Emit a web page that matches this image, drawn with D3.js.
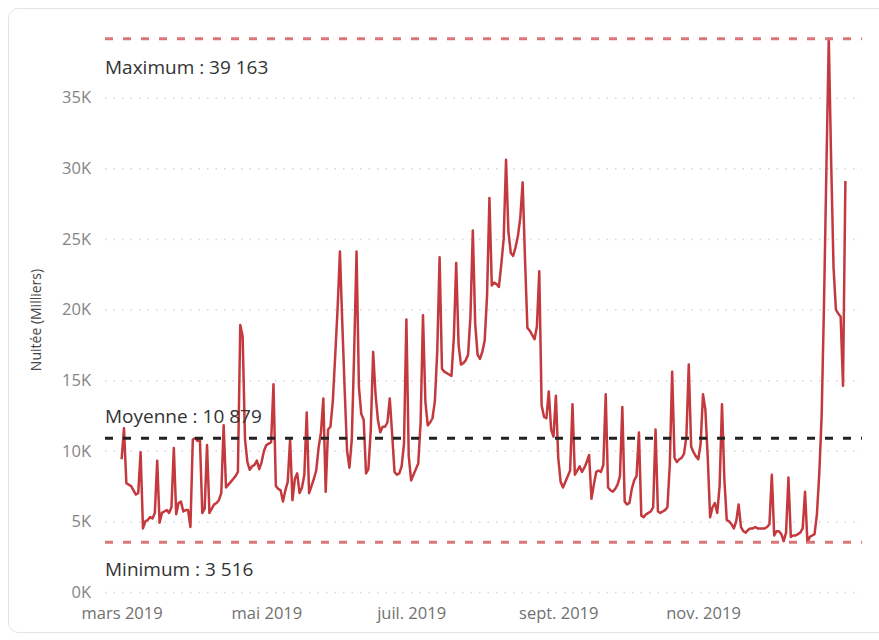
<!DOCTYPE html>
<html>
<head>
<meta charset="utf-8">
<script src="https://cdn.jsdelivr.net/npm/d3@7"></script>
<style>
  html, body { margin: 0; padding: 0; background: #fff; }
  body { width: 879px; height: 640px; overflow: hidden; font-family: "Open Sans", "Noto Sans", sans-serif; }
</style>
</head>
<body>
<div id="chart"></div>
<script>
// données journalières à partir du 1er mars 2019
const startDate = new Date(2019, 2, 1);
const nuitees = [
  9400, 11600, 7700, 7600, 7500, 7200, 6900, 7000, 9900, 4500,
  5000, 5100, 5300, 5200, 5600, 9300, 4900, 5600, 5700, 5800,
  5600, 6000, 10200, 5500, 6300, 6400, 5700, 5800, 5800, 4600,
  10800, 10900, 10700, 10800, 5600, 5900, 10400, 5600, 5900, 6200,
  6300, 6500, 7000, 11800, 7400, 7600, 7800, 8000, 8200, 8500,
  18900, 18100, 10800, 9200, 8650, 8900, 9000, 9300, 8700, 9200,
  10000, 10400, 10500, 10600, 14700, 7500, 7300, 7200, 6400, 7200,
  7800, 10800, 6500, 8000, 8400, 7000, 7400, 8300, 12700, 7000,
  7500, 8000, 8600, 10200, 11300, 13700, 7100, 11500, 11700, 13500,
  16700, 20000, 24100, 19000, 14300, 10000, 8800, 10800, 17000, 24100,
  14500, 12600, 12200, 8400, 8700, 11500, 17000, 14000, 12200, 11300,
  11700, 11700, 12000, 13700, 11200, 8500, 8300, 8400, 8900, 10500,
  19300, 9600, 7900, 8300, 8700, 9100, 12000, 19600, 13500, 11800,
  12000, 12300, 13500, 17000, 23700, 15800, 15600, 15500, 15400, 15300,
  18000, 23300, 17500, 16100, 16200, 16400, 16800, 19500, 25600, 19000,
  16800, 16500, 17000, 17800, 21000, 27900, 21700, 21900, 21800, 21600,
  23200, 25000, 30600, 25500, 24000, 23800, 24400, 25200, 26500, 29000,
  23500, 18700, 18500, 18200, 17900, 18800, 22700, 13200, 12400, 12300,
  14200, 11500, 11000, 13900, 9500, 7800, 7400, 7800, 8200, 8600,
  13300, 8300, 8600, 8900, 8500, 8800, 9200, 9700, 6600, 7600,
  8500, 8600, 8500, 9000, 14000, 7400, 7200, 7100, 7300, 7600,
  8200, 13100, 6400, 6200, 6300, 7300, 7900, 8200, 11300, 5400,
  5300, 5500, 5600, 5700, 6000, 11500, 5700, 5600, 5700, 5800,
  6000, 9000, 15600, 9500, 9200, 9400, 9500, 9800, 11000, 16100,
  10300, 9900, 9600, 9400, 10500, 14000, 12900, 9500, 5300, 6000,
  6300, 5600, 7500, 13300, 8000, 5100, 5000, 4800, 4500, 5000,
  6200, 4600, 4300, 4200, 4400, 4500, 4500, 4600, 4500, 4500,
  4500, 4500, 4600, 4800, 8300, 4000, 4300, 4300, 4100, 3600,
  4200, 8100, 3900, 4000, 4000, 4100, 4200, 4500, 7100, 3516,
  3900, 4000, 4100, 5500, 8400, 12500, 20500, 30000, 39163, 30500,
  23000, 20000, 19700, 19500, 14600, 29100
];
const moyenne = 10879;

const monthTicks = [new Date(2019, 2, 1), new Date(2019, 4, 1), new Date(2019, 6, 1), new Date(2019, 8, 1), new Date(2019, 10, 1)];
const monthLabels = ["mars 2019", "mai 2019", "juil. 2019", "sept. 2019", "nov. 2019"];
const yTicks = [0, 5000, 10000, 15000, 20000, 25000, 30000, 35000];

const data = nuitees.map((v, i) => ({ date: d3.timeDay.offset(startDate, i), value: v }));
const maxVal = d3.max(nuitees), minVal = d3.min(nuitees);

const fr = d3.formatLocale({ decimal: ",", thousands: " ", grouping: [3], currency: ["", " €"] });
const fmt = fr.format(",d");

const width = 879, height = 640;
const plotLeft = 105, plotRight = 862, plotTop = 27, plotBottom = 592;

const svg = d3.select("#chart").append("svg")
  .attr("width", width)
  .attr("height", height);

// carte
svg.append("rect")
  .attr("x", 8.5).attr("y", 8.5)
  .attr("width", 900).attr("height", 624)
  .attr("rx", 10)
  .attr("fill", "#fff")
  .attr("stroke", "#e3e3e3");

const x = d3.scaleTime()
  .domain([new Date(2019, 1, 22), new Date(2020, 0, 7)])
  .range([plotLeft, plotRight]);

const y = d3.scaleLinear()
  .domain([0, 40000])
  .range([plotBottom, plotTop]);

// grille
const grid = svg.append("g")
  .attr("transform", "translate(" + plotLeft + ",0)")
  .call(d3.axisLeft(y).tickValues(yTicks).tickSize(-(plotRight - plotLeft)).tickFormat(""));
grid.select(".domain").remove();
grid.selectAll("line")
  .attr("stroke", "#d6d6d6")
  .attr("stroke-width", 1.5)
  .attr("stroke-dasharray", "1.5,7");

// axe y
const yAxis = svg.append("g")
  .attr("transform", "translate(" + plotLeft + ",0)")
  .call(d3.axisLeft(y).tickValues(yTicks).tickSize(0).tickPadding(14)
    .tickFormat(d => (d / 1000) + "K"));
yAxis.select(".domain").remove();
yAxis.selectAll("text")
  .attr("fill", "#858585")
  .style("font-size", "16.5px")
  .style("font-family", "'Open Sans', sans-serif");

// axe x
const xAxis = svg.append("g")
  .attr("transform", "translate(0," + plotBottom + ")")
  .call(d3.axisBottom(x).tickValues(monthTicks).tickSize(0).tickPadding(15)
    .tickFormat((d, i) => monthLabels[i]));
xAxis.select(".domain").remove();
xAxis.selectAll("text")
  .attr("fill", "#707070")
  .style("font-size", "16.5px")
  .style("font-family", "'Open Sans', sans-serif");

// titre axe y
svg.append("text")
  .attr("transform", "translate(41,320) rotate(-90)")
  .attr("text-anchor", "middle")
  .attr("fill", "#444")
  .style("font-size", "14px")
  .text("Nuitée (Milliers)");

// lignes de référence
function refLine(v, color, label, dy) {
  svg.append("line")
    .attr("x1", plotLeft).attr("x2", plotRight)
    .attr("y1", y(v)).attr("y2", y(v))
    .attr("stroke", color)
    .attr("stroke-width", 3)
    .attr("stroke-dasharray", "8,10");
  svg.append("text")
    .attr("x", plotLeft)
    .attr("y", y(v) + dy)
    .attr("fill", "#333")
    .style("font-size", "19px")
    .text(label);
}

// courbe
const line = d3.line()
  .x(d => x(d.date))
  .y(d => y(d.value));

svg.append("path")
  .datum(data)
  .attr("fill", "none")
  .attr("stroke", "#c4393d")
  .attr("stroke-width", 2.5)
  .attr("stroke-linejoin", "round")
  .attr("d", line);

refLine(maxVal, "#d9777a", "Maximum : " + fmt(maxVal), 35);
refLine(minVal, "#d9777a", "Minimum : " + fmt(minVal), 34);
refLine(moyenne, "#222", "Moyenne : " + fmt(moyenne), -15);
</script>
</body>
</html>
